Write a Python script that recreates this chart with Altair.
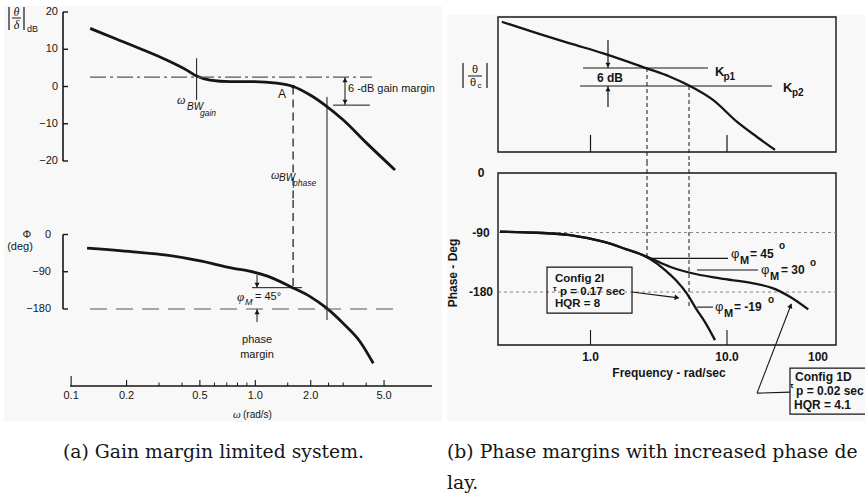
import altair as alt
import pandas as pd

W, H = 865, 494
SANS = "Liberation Sans"
SERIF = "Liberation Serif"
CAP = "DejaVu Serif"
INK = "#151515"
PAPER = "#f8f8f8"

# ===================== (a) Gain margin limited system =====================
a_mag_w = [0.1269, 0.1772, 0.2466, 0.3303, 0.4244, 0.4802, 0.5681, 0.7289, 0.9758, 1.306, 1.604,
           1.985, 2.389, 3.004, 4.022, 5.735]
a_mag_db = [15.6, 12.7, 9.8, 7.1, 4.4, 2.8, 1.7, 1.3, 1.3, 0.9, 0.0, -2.3, -5.0, -9.0, -15.2, -22.4]
a_ph_w = [0.1220, 0.2172, 0.3303, 0.5011, 0.7592, 0.9160, 1.153, 1.604, 1.985, 2.441, 3.004, 3.706, 4.369]
a_ph_deg = [-33, -42, -50, -64, -82, -88, -100, -129, -150, -178, -215, -259, -311]
a_w_ticks = [0.1, 0.2, 0.5, 1.0, 2.0, 5.0]
a_w_labels = ["0.1", "0.2", "0.5", "1.0", "2.0", "5.0"]
a_w_minor = [0.3, 0.4, 0.6, 0.7, 0.8, 0.9, 1.5, 2.5, 3.0, 4.0]
a_db_ticks = [20, 10, 0, -10, -20]
a_db_labels = ["20", "10", "0", "\u221210", "\u221220"]
a_deg_ticks = [0, -90, -180]
a_deg_labels = ["0", "\u221290", "\u2212180"]
a_w_bwgain, a_w_A, a_w_bwphase = 0.4802, 1.604, 2.450
a_ref_db, a_gm_low_db = 2.5, -5.0
a_pm_deg = -128.5

# ===================== (b) Phase margins with increased phase delay =====================
b_mag_w = [0.224, 0.404, 0.708, 1.24, 2.58, 3.82, 5.36, 7.94, 11.8, 16.5, 22.5]
b_mag_db = [21.4, 17.6, 14.2, 10.9, 5.9, 3.1, 0.0, -4.7, -11.9, -16.9, -21.3]
b_common_w = [0.217, 0.404, 0.708, 1.24, 1.84, 2.31]
b_common_deg = [-88.8, -90.3, -93.8, -103.9, -115.4, -122.5]
b_1d_w = [2.73, 3.82, 5.36, 8.89, 15.6, 21.8, 28.9, 39.4]
b_1d_deg = [-128.5, -141.7, -150.8, -159.3, -166.8, -174.4, -187.1, -206.2]
b_2i_w = [2.73, 3.52, 4.28, 5.07, 6.03, 6.90, 8.17]
b_2i_deg = [-130.0, -146.7, -163.4, -182.0, -207.2, -225.4, -252.6]
b_w_ticks = [1.0, 10.0]
b_w_labels = ["1.0", "10.0"]
b_deg_ticks = [0, -90, -180]
b_deg_labels = ["0", "-90", "-180"]
b_kp1_db, b_kp2_db = 6, 0
b_w_kp1, b_w_kp2 = 2.594, 5.27

# ---------- scales (each sub-plot of the scanned figure) ----------
XA = alt.Scale(type="log", domain=[0.0986, 9.106], range=[70, 432], nice=False)
YAM = alt.Scale(domain=[-20, 20], range=[161, 12], nice=False, zero=False)
YAP = alt.Scale(domain=[-180, 0], range=[309, 234.5], nice=False, zero=False)
XB = alt.Scale(type="log", domain=[0.21, 62.9], range=[498, 836], nice=False)
YBM = alt.Scale(domain=[-22, 23], range=[152, 17], nice=False, zero=False)
YBP = alt.Scale(domain=[-260, 0], range=[345, 173], nice=False, zero=False)

A_JOIN_DB, A_JOIN_DEG = -30.47, 83.35   # where the two stacked plots of (a) meet
B_JOIN_DB, B_JOIN_DEG = -25.33, 16.64   # gap between the two boxes of (b)

one = pd.DataFrame({"k": [0]})


def segs(rows, xs, ys, width=1.0, dash=None, color=INK):
    df = pd.DataFrame(rows, columns=["w1", "v1", "w2", "v2"])
    kw = dict(color=color, strokeWidth=width)
    if dash:
        kw["strokeDash"] = dash
    return alt.Chart(df).mark_rule(**kw).encode(
        x=alt.X("w1:Q", scale=xs, axis=None), x2="w2:Q",
        y=alt.Y("v1:Q", scale=ys, axis=None), y2="v2:Q")


def texts(rows, xs, ys, size=11, weight="normal", style="normal", align="left", font=SANS):
    df = pd.DataFrame(rows, columns=["t", "w", "v"])
    return alt.Chart(df).mark_text(fontSize=size, fontWeight=weight, fontStyle=style, align=align,
                                   baseline="middle", font=font, color=INK).encode(
        x=alt.X("w:Q", scale=xs, axis=None), y=alt.Y("v:Q", scale=ys, axis=None), text="t:N")


def heads(rows, xs, ys, shape, angle=0, size=26):
    df = pd.DataFrame(rows, columns=["w", "v"])
    return alt.Chart(df).mark_point(shape=shape, filled=True, size=size, color=INK, opacity=1,
                                    angle=angle).encode(
        x=alt.X("w:Q", scale=xs, axis=None), y=alt.Y("v:Q", scale=ys, axis=None))


def boxes(rows, xs, ys, width=1.4):
    df = pd.DataFrame(rows, columns=["w1", "v1", "w2", "v2"])
    return alt.Chart(df).mark_rect(fill="white", fillOpacity=0, stroke=INK, strokeWidth=width).encode(
        x=alt.X("w1:Q", scale=xs, axis=None), x2="w2:Q",
        y=alt.Y("v1:Q", scale=ys, axis=None), y2="v2:Q")


# ---- axis pieces drawn through the scales ----
def y_axis_line(ticks, ys, xpix, width=1.6):
    df = pd.DataFrame({"a": [max(ticks)], "b": [min(ticks)]})
    return alt.Chart(df).mark_rule(color=INK, strokeWidth=width).encode(
        x=alt.value(xpix), y=alt.Y("a:Q", scale=ys, axis=None), y2="b:Q")


def y_ticks(ticks, ys, x1, x2, width=1.4):
    return alt.Chart(pd.DataFrame({"v": ticks})).mark_rule(color=INK, strokeWidth=width).encode(
        x=alt.value(x1), x2=alt.value(x2), y=alt.Y("v:Q", scale=ys, axis=None))


def y_labels(ticks, labels, ys, xpix, size=11, weight="normal", align="right"):
    df = pd.DataFrame({"v": ticks, "t": labels})
    return alt.Chart(df).mark_text(align=align, baseline="middle", font=SANS, fontSize=size,
                                   fontWeight=weight, color=INK).encode(
        x=alt.value(xpix), y=alt.Y("v:Q", scale=ys, axis=None), text="t:N")


def x_labels(ticks, labels, xs, ypix, size=11, weight="normal"):
    df = pd.DataFrame({"w": ticks, "t": labels})
    return alt.Chart(df).mark_text(align="center", baseline="middle", font=SANS, fontSize=size,
                                   fontWeight=weight, color=INK).encode(
        x=alt.X("w:Q", scale=xs, axis=None), y=alt.value(ypix), text="t:N")


def x_ticks(ticks, xs, y1, y2, width=1.1):
    return alt.Chart(pd.DataFrame({"w": ticks})).mark_rule(color=INK, strokeWidth=width).encode(
        x=alt.X("w:Q", scale=xs, axis=None), y=alt.value(y1), y2=alt.value(y2))


def ptext(t, x, y, size=11, weight="normal", style="normal", align="center", font=SANS, angle=0):
    return alt.Chart(one).mark_text(text=t, fontSize=size, fontWeight=weight, fontStyle=style,
                                    align=align, baseline="middle", font=font, angle=angle,
                                    color=INK).encode(x=alt.value(x), y=alt.value(y))


def prule(x, y, x2, y2, width=1.0):
    return alt.Chart(one).mark_rule(color=INK, strokeWidth=width).encode(
        x=alt.value(x), y=alt.value(y), x2=alt.value(x2), y2=alt.value(y2))


def prect(x, y, x2, y2, fill):
    return alt.Chart(one).mark_rect(fill=fill).encode(
        x=alt.value(x), y=alt.value(y), x2=alt.value(x2), y2=alt.value(y2))


# ---------------- backgrounds of the two scanned figures ----------------
bg = alt.layer(prect(4, 6, 442, 422, PAPER), prect(447, 15, 865, 422, PAPER))

# ---------------- (a) magnitude ----------------
amag_curve = alt.Chart(pd.DataFrame({"w": a_mag_w, "v": a_mag_db})).mark_line(
    color=INK, strokeWidth=2.8, interpolate="monotone").encode(
    x=alt.X("w:Q", scale=XA, axis=None), y=alt.Y("v:Q", scale=YAM, axis=None))
amag = alt.layer(
    amag_curve,
    y_axis_line(a_db_ticks, YAM, 63),
    y_ticks(a_db_ticks, YAM, 63, 68),
    y_labels(a_db_ticks, a_db_labels, YAM, 58),
    segs([(0.1267, a_ref_db, 4.296, a_ref_db)], XA, YAM, width=1.2, dash=[16, 4, 3, 4], color="#555"),
    segs([(a_w_bwgain, 7.6, a_w_bwgain, -3.6),
          (a_w_bwphase, -2.8, a_w_bwphase, A_JOIN_DB),
          (2.642, a_gm_low_db, 4.190, a_gm_low_db),
          (3.069, a_ref_db, 3.069, a_gm_low_db)], XA, YAM, width=1.0),
    segs([(a_w_A, 0, a_w_A, A_JOIN_DB)], XA, YAM, width=1.2, dash=[8, 5]),
    heads([(3.069, 1.74)], XA, YAM, "triangle-up"),
    heads([(3.069, -4.16)], XA, YAM, "triangle-down"),
    heads([(a_w_A, 0)], XA, YAM, "circle", size=14),
    texts([("A", 1.396, -1.9)], XA, YAM, size=12, align="center"),
    texts([("6 -dB gain margin", 3.186, -0.67)], XA, YAM, size=11),
    texts([("ω", 0.3758, -3.62), ("ω", 1.217, -23.8)], XA, YAM, size=12, style="italic", font=SERIF),
    texts([("BW", 0.4259, -5.5), ("BW", 1.345, -24.6)], XA, YAM, size=10, style="italic"),
    texts([("gain", 0.5008, -7.1), ("phase", 1.602, -26.0)], XA, YAM, size=8.5, style="italic"),
)

# ---------------- (a) phase ----------------
aph_curve = alt.Chart(pd.DataFrame({"w": a_ph_w, "v": a_ph_deg})).mark_line(
    color=INK, strokeWidth=2.8, interpolate="monotone").encode(
    x=alt.X("w:Q", scale=XA, axis=None), y=alt.Y("v:Q", scale=YAP, axis=None))
a_axis_line = alt.Chart(pd.DataFrame({"a": [0.0986], "b": [9.106]})).mark_rule(
    color=INK, strokeWidth=1.3).encode(
    x=alt.X("a:Q", scale=XA, axis=None), x2="b:Q", y=alt.value(386))
aph = alt.layer(
    aph_curve,
    y_axis_line(a_deg_ticks, YAP, 63),
    y_ticks(a_deg_ticks, YAP, 63, 68),
    y_labels(a_deg_ticks, a_deg_labels, YAP, 51),
    a_axis_line,
    x_ticks(a_w_ticks[1:], XA, 386, 380),
    x_ticks(a_w_ticks[:1], XA, 386, 376),
    x_ticks(a_w_minor, XA, 386, 382.5, width=1.0),
    x_labels(a_w_ticks, a_w_labels, XA, 396),
    segs([(0.1267, -180, 5.948, -180)], XA, YAP, width=1.2, dash=[17, 9], color="#555"),
    segs([(a_w_A, A_JOIN_DEG, a_w_A, a_pm_deg)], XA, YAP, width=1.2, dash=[8, 5]),
    segs([(a_w_bwphase, A_JOIN_DEG, a_w_bwphase, -206.6),
          (0.9596, a_pm_deg, 1.793, a_pm_deg),
          (1.0216, -97.9, 1.0216, a_pm_deg),
          (1.0216, -211.4, 1.0216, -180)], XA, YAP, width=1.0),
    heads([(1.0216, -122.0)], XA, YAP, "triangle-down"),
    heads([(1.0216, -187.2)], XA, YAP, "triangle-up"),
    texts([("φ", 0.7955, -151)], XA, YAP, size=13, style="italic", font=SERIF),
    texts([("M", 0.8795, -163)], XA, YAP, size=9, style="italic"),
    texts([("= 45°", 0.9962, -151)], XA, YAP, size=11),
    texts([("phase", 1.0216, -255), ("margin", 1.0216, -291)], XA, YAP, size=11, align="center"),
)

# ---------------- (b) magnitude ----------------
bmag_curve = alt.Chart(pd.DataFrame({"w": b_mag_w, "v": b_mag_db})).mark_line(
    color=INK, strokeWidth=2.3, interpolate="monotone").encode(
    x=alt.X("w:Q", scale=XB, axis=None), y=alt.Y("v:Q", scale=YBM, axis=None))
bmag = alt.layer(
    boxes([(0.21, 23, 62.9, -22)], XB, YBM),
    bmag_curve,
    segs([(0.881, b_kp1_db, 7.26, b_kp1_db),
          (0.838, b_kp2_db, 21.4, b_kp2_db),
          (1.343, 15.3, 1.343, b_kp1_db),
          (1.343, -7.0, 1.343, b_kp2_db),
          (1.0, -22, 1.0, -16.3),
          (10.0, -22, 10.0, -16.3)], XB, YBM, width=1.2),
    segs([(b_w_kp1, b_kp1_db, b_w_kp1, B_JOIN_DB),
          (b_w_kp2, b_kp2_db, b_w_kp2, B_JOIN_DB)], XB, YBM, width=1.0, dash=[4, 3]),
    heads([(1.343, 7.0)], XB, YBM, "triangle-down"),
    heads([(1.343, -1.0)], XB, YBM, "triangle-up"),
    texts([("K", 8.17, 4.67), ("K", 25.72, -0.67)], XB, YBM, size=13, weight="bold"),
    texts([("p1", 9.43, 3.0), ("p2", 29.94, -2.2)], XB, YBM, size=10, weight="bold"),
    texts([("6 dB", 1.389, 2.67)], XB, YBM, size=12, weight="bold", align="center"),
)

# ---------------- (b) phase ----------------
b_rows = ([("1D", w, d) for w, d in zip(b_common_w + b_1d_w, b_common_deg + b_1d_deg)] +
          [("2I", w, d) for w, d in zip(b_common_w + b_2i_w, b_common_deg + b_2i_deg)])
bph_curves = alt.Chart(pd.DataFrame(b_rows, columns=["s", "w", "v"])).mark_line(
    color=INK, strokeWidth=2.3, interpolate="monotone").encode(
    x=alt.X("w:Q", scale=XB, axis=None), y=alt.Y("v:Q", scale=YBP, axis=None), detail="s:N")
bph = alt.layer(
    boxes([(0.21, 0, 62.9, -260)], XB, YBP),
    segs([(0.21, -90, 62.9, -90), (0.21, -180, 62.9, -180)], XB, YBP, width=0.9, dash=[3, 3],
         color="#777"),
    segs([(b_w_kp1, B_JOIN_DEG, b_w_kp1, -129.0),
          (b_w_kp2, B_JOIN_DEG, b_w_kp2, -202.7)], XB, YBP, width=1.0, dash=[4, 3]),
    bph_curves,
    y_labels(b_deg_ticks, b_deg_labels, YBP, 481, size=12, weight="bold", align="center"),
    x_labels(b_w_ticks, b_w_labels, XB, 357, size=12, weight="bold"),
    segs([(1.0, -260, 1.0, -237.3), (10.0, -260, 10.0, -237.3),
          (2.729, -129.0, 10.17, -129.0),
          (6.03, -146.7, 16.87, -146.7),
          (6.03, -202.7, 7.90, -202.7),
          (2.014, -180.0, 4.40, -188.8),
          (28.94, -331.3, 16.59, -332.8),
          (16.59, -332.8, 29.6, -198.0)], XB, YBP, width=1.1),
    boxes([(0.48, -142.2, 2.014, -211.8), (28.94, -295.0, 150.0, -364.5)], XB, YBP, width=1.2),
    heads([(4.30, -188.3)], XB, YBP, "triangle-right", angle=8, size=30),
    heads([(29.24, -200.7)], XB, YBP, "triangle-up", angle=21, size=30),
    texts([("φ", 10.70, -122.5), ("φ", 17.75, -146.7), ("φ", 8.17, -202.7)], XB, YBP, size=13),
    texts([("M", 12.45, -132.5), ("M", 20.65, -156.5), ("M", 9.51, -212.5)], XB, YBP, size=11,
          weight="bold"),
    texts([("= 45", 14.74, -122.5), ("= 30", 24.86, -146.7), ("= -19", 11.25, -202.7)], XB, YBP,
          size=12, weight="bold"),
    texts([("o", 24.0, -110.4), ("o", 40.5, -136.1), ("o", 19.97, -192.1)], XB, YBP, size=10,
          weight="bold"),
    texts([("Config 2I", 0.5495, -159.5), ("p = 0.17 sec", 0.598, -179.5), ("HQR = 8", 0.5495, -198.0)],
          XB, YBP, size=11.5, weight="bold"),
    texts([("Config 1D", 31.5, -308.6), ("p = 0.02 sec", 32.03, -329.5), ("HQR = 4.1", 30.96, -350.9)],
          XB, YBP, size=12, weight="bold"),
    texts([("τ", 0.531, -176.0), ("τ", 28.9, -322.5)], XB, YBP, size=8, weight="bold"),
)

# ---------------- free labels (axis titles, captions) ----------------
labels = alt.layer(
    # |theta/delta| dB
    prule(9, 7, 9, 30, 1.2), prule(24, 7, 24, 30, 1.2), prule(12, 18, 21, 18, 1.0),
    ptext("θ", 16.5, 12, size=12, style="italic", font=SERIF),
    ptext("δ", 16.5, 24.5, size=12, style="italic", font=SERIF),
    ptext("dB", 27, 28.5, size=9, align="left"),
    ptext("Φ", 27, 235, size=11),
    ptext("(deg)", 20, 246.5, size=11),
    ptext("ω", 237, 415, size=11, style="italic", font=SERIF),
    ptext("(rad/s)", 243, 415, size=10, align="left"),
    # |theta/theta_c|
    prule(463, 63, 463, 88, 1.2), prule(487, 63, 487, 88, 1.2), prule(468, 76, 482, 76, 1.0),
    ptext("θ", 475, 70, size=11),
    ptext("θ", 473, 82.5, size=11),
    ptext("c", 479.5, 85.5, size=8),
    ptext("Phase - Deg", 453, 273, size=12, weight="bold", angle=270),
    ptext("Frequency - rad/sec", 669, 373, size=12, weight="bold"),
    ptext("100", 818, 357, size=12, weight="bold"),
    # captions
    ptext("(a) Gain margin limited system.", 63, 452, size=18.8, font=CAP, align="left"),
    ptext("(b) Phase margins with increased phase de", 447, 452, size=18.8, font=CAP, align="left"),
    ptext("lay.", 447, 483, size=18.8, font=CAP, align="left"),
)

chart = alt.layer(bg, amag, aph, bmag, bph, labels).resolve_scale(
    x="independent", y="independent"
).properties(
    width=W, height=H, autosize=alt.AutoSizeParams(type="none"), padding=0,
    background="white"
).configure_view(stroke=None)

chart.save("out.html", embed_options={"renderer": "svg", "actions": False})
